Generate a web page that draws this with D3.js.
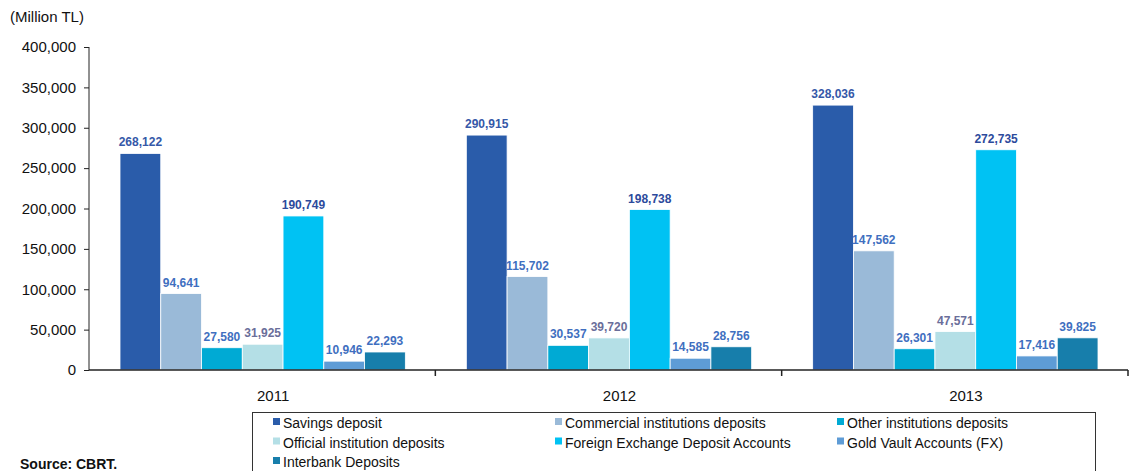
<!DOCTYPE html>
<html><head><meta charset="utf-8">
<script src="https://cdn.jsdelivr.net/npm/d3@7"></script>
<style>body{margin:0;background:#fff;} svg{display:block;font-family:"Liberation Sans",Arial,sans-serif;}</style>
</head><body><svg id="c" width="1130" height="471"></svg>
<script>
const years = ["2011","2012","2013"];
const seriesNames = ["Savings deposit","Commercial institutions deposits","Other institutions deposits","Official institution deposits","Foreign Exchange Deposit Accounts","Gold Vault Accounts (FX)","Interbank Deposits"];
const savings    = [268122, 290915, 328036];
const commercial = [94641, 115702, 147562];
const other      = [27580, 30537, 26301];
const official   = [31925, 39720, 47571];
const fx         = [190749, 198738, 272735];
const gold       = [10946, 14585, 17416];
const interbank  = [22293, 28756, 39825];
const yTicks = [0,50000,100000,150000,200000,250000,300000,350000,400000];
const barColors = ["#2a5caa","#9abad8","#00aad4","#b4dfe6","#00c2f3","#5e9cd6","#177eab"];
const labelColors = ["#3558a8","#3f6fc0","#3f6fc0","#6a6e9a","#2c4a9c","#3f6fc0","#3f6fc0"];
const seriesValues = [savings, commercial, other, official, fx, gold, interbank];

const svg = d3.select("#c");
const L = 89, R = 1128, T = 47, B = 370;
const y = d3.scaleLinear().domain([0,400000]).range([B,T]);
const x0 = d3.scaleBand().domain(years).range([L,R]).padding(0);
const x1 = d3.scaleBand().domain(d3.range(seriesNames.length)).range([31, x0.bandwidth()-30]).padding(0);
const fmt = d3.format(",");

// y axis
const ya = svg.append("g").attr("transform",`translate(${L},0)`)
  .call(d3.axisLeft(y).tickValues(yTicks).tickFormat(fmt).tickSize(5).tickPadding(8));
ya.select(".domain").attr("stroke","#222").attr("d",`M-0,${T}V${B}`);
ya.selectAll(".tick line").attr("stroke","#222");
ya.selectAll(".tick text").attr("font-size","15px").attr("fill","#111").attr("font-family","Liberation Sans, Arial, sans-serif");

// bars
years.forEach((yr,i)=>{
  const g = svg.append("g").attr("transform",`translate(${x0(yr)},0)`);
  seriesValues.forEach((vals,s)=>{
    g.append("rect").attr("x",x1(s)).attr("y",y(vals[i])).attr("width",x1.bandwidth()).attr("height",B-y(vals[i]))
      .attr("fill",barColors[s]).attr("stroke","#fff").attr("stroke-width",0.8);
    g.append("text").attr("x",x1(s)+x1.bandwidth()/2).attr("y",y(vals[i])-7)
      .attr("text-anchor","middle").attr("font-size","12px").attr("font-weight","bold")
      .attr("fill",labelColors[s]).text(fmt(vals[i]));
  });
});

// x axis
const xa = svg.append("g").attr("transform",`translate(0,${B})`);
xa.append("line").attr("x1",L).attr("x2",R).attr("stroke","#222").attr("stroke-width",1.5);
years.forEach(yr=>{
  const xe = x0(yr)+x0.bandwidth();
  xa.append("line").attr("x1",xe).attr("x2",xe).attr("y1",0).attr("y2",6).attr("stroke","#222").attr("stroke-width",1.5);
  xa.append("text").attr("x",x0(yr)+x0.bandwidth()/2+11).attr("y",31).attr("text-anchor","middle")
    .attr("font-size","15px").attr("fill","#111").text(yr);
});

// titles
svg.append("text").attr("x",10).attr("y",22).attr("font-size","15px").attr("fill","#111").text("(Million TL)");
svg.append("text").attr("x",20).attr("y",469).attr("font-size","14px").attr("font-weight","bold").attr("fill","#111").text("Source: CBRT.");

// legend
svg.append("rect").attr("x",252.5).attr("y",412.5).attr("width",843).attr("height",80).attr("fill","none").attr("stroke","#333").attr("stroke-width",1);
const colX = [273, 555, 837];
seriesNames.forEach((n,s)=>{
  const col = s%3, row = Math.floor(s/3);
  const lx = colX[col], ly = 418 + row*19.5;
  svg.append("rect").attr("x",lx).attr("y",ly).attr("width",7).attr("height",7).attr("fill",barColors[s]);
  svg.append("text").attr("x",lx+10).attr("y",ly+10).attr("font-size","14px").attr("fill","#111").text(n);
});
</script></body></html>
